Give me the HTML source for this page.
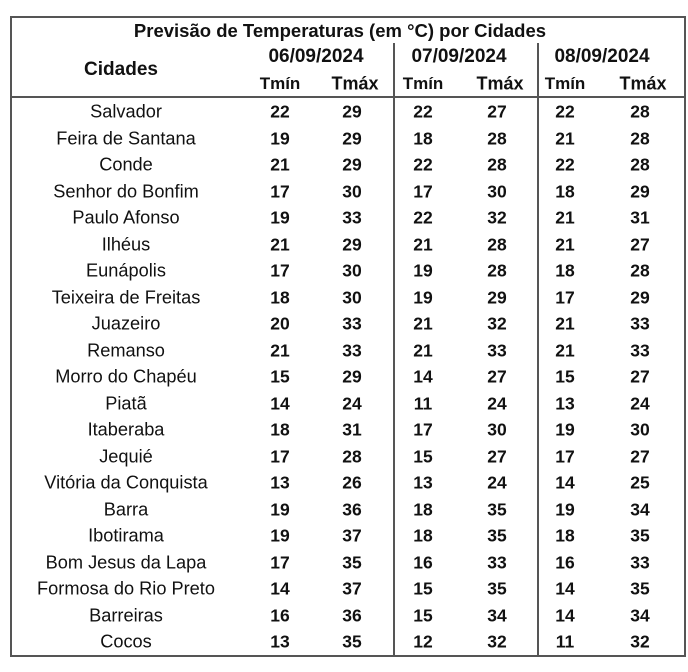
<!DOCTYPE html>
<html><head><meta charset="utf-8"><style>
body{margin:0;width:688px;height:672px;background:#fff;position:relative;font-family:"Liberation Sans",sans-serif;color:#111;overflow:hidden}
.t{position:absolute;transform:translate(-50%,-50%);white-space:nowrap;font-size:16px}
.b{font-weight:bold}
.l{position:absolute;background:#555}
</style></head><body>
<div class="l" style="left:10px;top:16px;width:676px;height:2px"></div>
<div class="l" style="left:10px;top:655px;width:676px;height:2px"></div>
<div class="l" style="left:10px;top:16px;width:2px;height:641px"></div>
<div class="l" style="left:684px;top:16px;width:2px;height:641px"></div>
<div class="l" style="left:10px;top:96px;width:676px;height:2px"></div>
<div class="l" style="left:393px;top:43px;width:1.5px;height:613px"></div>
<div class="l" style="left:537px;top:43px;width:1.5px;height:613px"></div>
<div id="c"></div>
<script>
var h='';
function t(x,y,s,b,fs){h+='<div class="t'+(b?' b':'')+'" style="left:'+x+'px;top:'+y+'px'+(fs?';font-size:'+fs+'px':'')+'">'+s+'</div>';}
t(340,31,'Previsão de Temperaturas (em °C) por Cidades',1,18.5);
t(121,70,'Cidades',1,19);
[316,459,602].forEach(function(x,i){t(x,57,['06/09/2024','07/09/2024','08/09/2024'][i],1,19);});
[280,355,423,500,565,643].forEach(function(x,i){t(x,84,i%2?'Tmáx':'Tmín',1,i%2?18:17);});
var d=[["Salvador",22,29,22,27,22,28],["Feira de Santana",19,29,18,28,21,28],["Conde",21,29,22,28,22,28],["Senhor do Bonfim",17,30,17,30,18,29],["Paulo Afonso",19,33,22,32,21,31],["Ilhéus",21,29,21,28,21,27],["Eunápolis",17,30,19,28,18,28],["Teixeira de Freitas",18,30,19,29,17,29],["Juazeiro",20,33,21,32,21,33],["Remanso",21,33,21,33,21,33],["Morro do Chapéu",15,29,14,27,15,27],["Piatã",14,24,11,24,13,24],["Itaberaba",18,31,17,30,19,30],["Jequié",17,28,15,27,17,27],["Vitória da Conquista",13,26,13,24,14,25],["Barra",19,36,18,35,19,34],["Ibotirama",19,37,18,35,18,35],["Bom Jesus da Lapa",17,35,16,33,16,33],["Formosa do Rio Preto",14,37,15,35,14,35],["Barreiras",16,36,15,34,14,34],["Cocos",13,35,12,32,11,32]];
var xs=[280,352,423,497,565,640];
d.forEach(function(r,i){var y=112+i*26.5;t(126,y,r[0],0,18.2);for(var j=0;j<6;j++)t(xs[j],y,r[j+1],1,17.5);});
document.getElementById('c').innerHTML=h;
</script>
</body></html>
